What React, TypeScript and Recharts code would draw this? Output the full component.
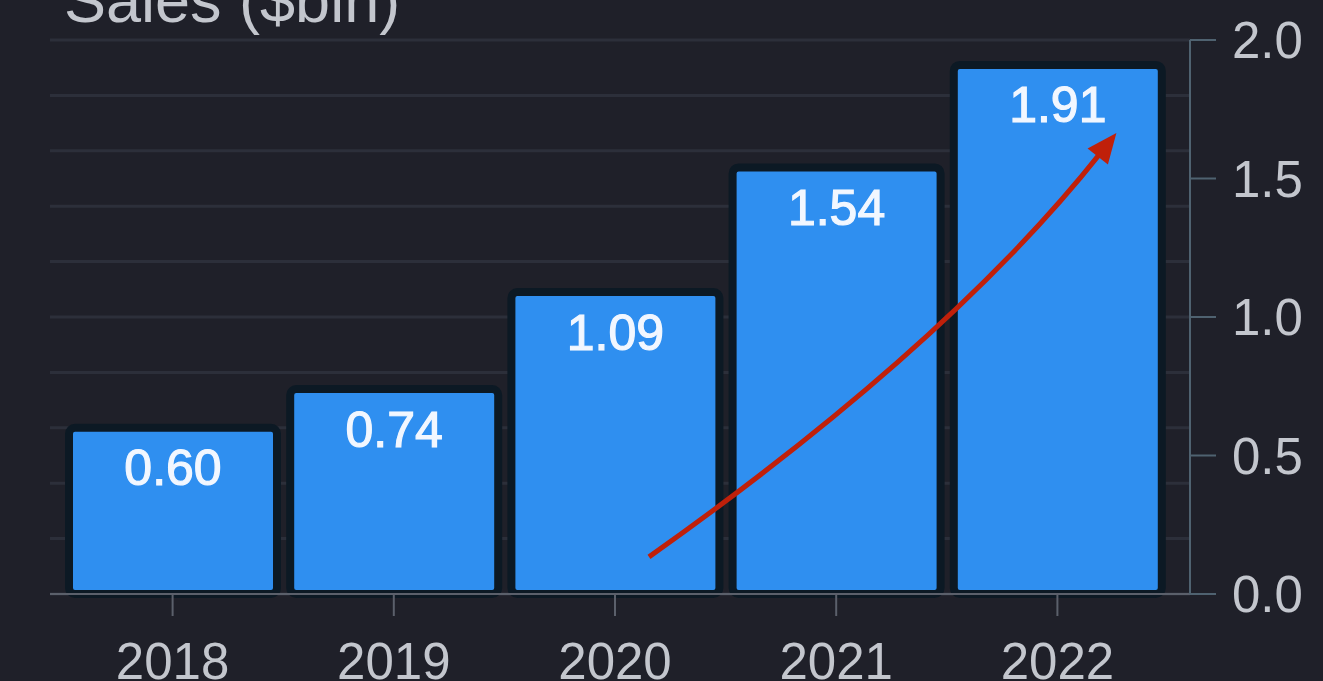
import { BarChart, Bar, XAxis, YAxis, ReferenceLine, LabelList, CartesianGrid } from "recharts";

const years = ["2018", "2019", "2020", "2021", "2022"];
const sales = [0.6, 0.74, 1.09, 1.54, 1.91];
const yTicks = [0, 0.5, 1, 1.5, 2];
const gridValues = [0, 0.2, 0.4, 0.6, 0.8, 1, 1.2, 1.4, 1.6, 1.8, 2];

// trend arrow annotation: from 2020 near the base up to the 2022 bar
const arrowFrom = { year: "2020", value: 0.134 };
const arrowTo = { year: "2022", value: 1.657 };

const data = years.map((year, i) => ({ year, sales: sales[i] }));

const BG = "#1f2029";
const TEXT = "#c3c6cd";
const FONT = "'Liberation Sans', Arial, Helvetica, sans-serif";

function Arrow(props: any) {
  const { x1, y1, x2, y2 } = props;
  if (x1 == null || x2 == null) return null;
  const sx = x1 + 34;
  const sy = y1;
  const ex = x2 + 59;
  const ey = y2 - 2;
  const cx = sx + 0.64 * (ex - sx);
  const cy = sy + 0.5 * (ey - sy);
  // direction at end of curve
  const dx = ex - cx;
  const dy = ey - cy;
  const len = Math.sqrt(dx * dx + dy * dy);
  const ux = dx / len;
  const uy = dy / len;
  const headLen = 30;
  const headW = 13;
  const bx = ex - ux * headLen;
  const by = ey - uy * headLen;
  const p1 = `${bx - uy * headW},${by + ux * headW}`;
  const p2 = `${bx + uy * headW},${by - ux * headW}`;
  return (
    <g>
      <path
        d={`M${sx},${sy} Q${cx},${cy} ${bx + ux * 4},${by + uy * 4}`}
        fill="none"
        stroke="#c0200a"
        strokeWidth={5}
      />
      <polygon points={`${ex},${ey} ${p1} ${p2}`} fill="#c0200a" />
    </g>
  );
}

export default function App() {
  return (
    <div
      style={{
        position: "absolute",
        left: 0,
        top: 0,
        width: 1323,
        height: 681,
        background: BG,
        overflow: "hidden",
        fontFamily: FONT,
      }}
    >
      <div
        style={{
          position: "absolute",
          left: 64,
          top: -31,
          fontSize: 63,
          lineHeight: "63px",
          color: TEXT,
          whiteSpace: "nowrap",
        }}
      >
        Sales ($bln)
      </div>
      <BarChart
        width={1323}
        height={681}
        data={data}
        margin={{ top: 40, right: 0, bottom: 0, left: 50 }}
        barSize={208}
      >
        <CartesianGrid
          vertical={false}
          horizontalValues={gridValues}
          stroke="#2c2f3a"
          strokeWidth={3}
        />
        <XAxis
          dataKey="year"
          height={87}
          padding={{ left: 12, right: 22 }}
          axisLine={{ stroke: "#5b606b", strokeWidth: 2 }}
          tickLine={{ stroke: "#5b606b", strokeWidth: 2 }}
          tickSize={22}
          tickMargin={27}
          tick={{ fill: TEXT, fontSize: 51, fontFamily: FONT }}
        />
        <YAxis
          orientation="right"
          width={133}
          domain={[0, 2]}
          ticks={yTicks}
          tickFormatter={(v: number) => v.toFixed(1)}
          axisLine={{ stroke: "#4f6270", strokeWidth: 2 }}
          tickLine={{ stroke: "#4f6270", strokeWidth: 2 }}
          tickSize={26}
          tickMargin={16}
          tick={{ fill: TEXT, fontSize: 51, fontFamily: FONT }}
        />
        <Bar
          dataKey="sales"
          fill="#2f8ff0"
          stroke="#0c1924"
          strokeWidth={8}
          radius={6}
          isAnimationActive={false}
        >
          <LabelList
            dataKey="sales"
            position="insideTop"
            offset={22}
            formatter={(v: any) => Number(v).toFixed(2)}
            fill="#f2f7ff"
            stroke="#f2f7ff"
            strokeWidth={1.2}
            fontSize={50}
            fontFamily={FONT}
          />
        </Bar>
        <ReferenceLine
          segment={[
            { x: arrowFrom.year, y: arrowFrom.value },
            { x: arrowTo.year, y: arrowTo.value },
          ]}
          shape={(p: any) => <Arrow {...p} />}
        />
      </BarChart>
    </div>
  );
}
